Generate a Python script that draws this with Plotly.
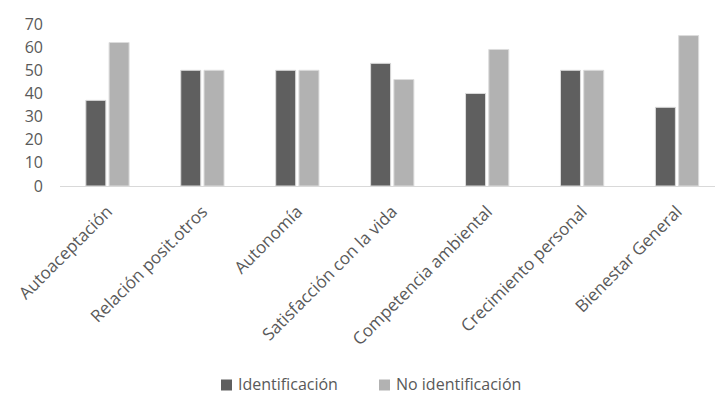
import plotly.graph_objects as go

categories = [
    "Autoaceptación",
    "Relación posit.otros",
    "Autonomía",
    "Satisfacción con la vida",
    "Competencia ambiental",
    "Crecimiento personal",
    "Bienestar General",
]
identificacion = [37, 50, 50, 53, 40, 50, 34]
no_identificacion = [62, 50, 50, 46, 59, 50, 65]
y_ticks = [0, 10, 20, 30, 40, 50, 60, 70]

series_names = ["Identificación", "No identificación"]
series_colors = ["#5f5f5f", "#b2b2b2"]

text_color = "#595959"
font_family = "Open Sans, Noto Sans, sans-serif"

fig = go.Figure()
for name, values, color in zip(series_names, [identificacion, no_identificacion], series_colors):
    fig.add_trace(go.Bar(
        name=name,
        x=categories,
        y=values,
        marker=dict(color=color, line=dict(color="#dcdcdc", width=1)),
        showlegend=False,
    ))

# Bottom legend: colour swatch + label for each series
W, H = 715, 394
legend_y = 384
swatch_x = [221, 379]
for sx, name, color in zip(swatch_x, series_names, series_colors):
    fig.add_shape(
        type="rect", xref="paper", yref="paper",
        x0=(sx - 60) / 655, x1=(sx + 11 - 60) / 655,
        y0=(186 - (legend_y + 6.5)) / 162, y1=(186 - (legend_y - 4.5)) / 162,
        fillcolor=color, line=dict(width=0),
    )
    fig.add_annotation(
        text=name, xref="paper", yref="paper",
        x=(sx + 15 - 60) / 655, y=(186 - legend_y) / 162,
        xanchor="left", yanchor="middle", showarrow=False,
        font=dict(size=16, color=text_color, family=font_family),
    )

fig.update_layout(
    width=W,
    height=H,
    margin=dict(l=60, r=0, t=24, b=208),
    paper_bgcolor="white",
    plot_bgcolor="white",
    barmode="group",
    bargap=0.51,
    bargroupgap=0.14,
    font=dict(family=font_family, color=text_color, size=15),
    showlegend=False,
)
fig.update_xaxes(
    range=[-0.5, 6.4],
    tickangle=-45,
    showline=True,
    linecolor="#d9d9d9",
    linewidth=1,
    showgrid=False,
    ticks="",
    ticklabelstandoff=8,
    tickfont=dict(size=17, color=text_color),
)
fig.update_yaxes(
    range=[0, 70],
    tickvals=y_ticks,
    showgrid=False,
    zeroline=False,
    showline=False,
    ticks="",
    ticklabelstandoff=16,
    tickfont=dict(size=16, color=text_color),
)

fig.write_html("out.html")
